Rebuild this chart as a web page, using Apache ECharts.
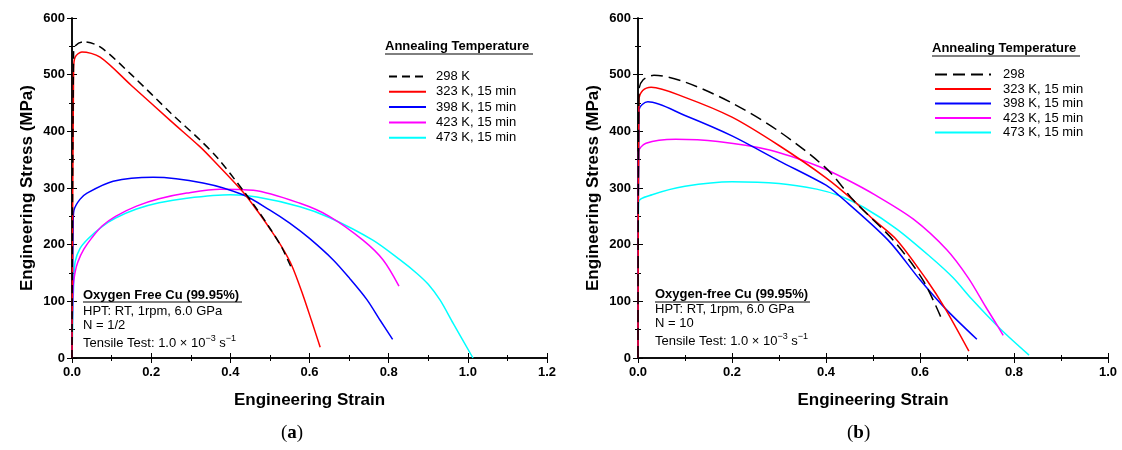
<!DOCTYPE html>
<html>
<head>
<meta charset="utf-8">
<script src="https://cdn.jsdelivr.net/npm/echarts@6/dist/echarts.min.js"></script>
<style>
html,body{margin:0;padding:0;background:#fff}
#main{width:1122px;height:450px}
</style>
</head>
<body>
<div id="main"></div>
<script>
// panel (a): N = 1/2   [strain, stress MPa]
var a298 = [[0,0],[0.004,540],[0.01,552],[0.028,558],[0.071,549],[0.15,500],[0.25,432],[0.323,385],[0.369,352],[0.432,296],[0.47,260],[0.5,229],[0.53,195],[0.553,161]];
var a323 = [[0,0],[0.004,510],[0.008,531],[0.025,540],[0.071,531],[0.15,481],[0.25,418],[0.323,373],[0.357,349],[0.432,293],[0.47,258],[0.5,228],[0.53,196],[0.556,162],[0.584,110],[0.605,66],[0.627,19]];
var a398 = [[0,0],[0.003,240],[0.005,261],[0.02,280],[0.038,291],[0.104,312],[0.205,319],[0.331,309],[0.432,288],[0.5,261],[0.55,238],[0.6,211],[0.66,173],[0.702,140],[0.745,103],[0.778,67],[0.81,33]];
var a423 = [[0,0],[0.003,125],[0.008,152],[0.015,170],[0.03,192],[0.05,212],[0.076,233],[0.11,250],[0.163,268],[0.22,281],[0.29,291],[0.374,298],[0.458,296],[0.576,273],[0.65,250],[0.735,208],[0.786,173],[0.826,127]];
var a473 = [[0,0],[0.003,102],[0.005,143],[0.008,170],[0.02,193],[0.04,210],[0.076,232],[0.11,247],[0.163,263],[0.22,274],[0.29,282],[0.4,288],[0.467,284],[0.576,267],[0.65,248],[0.76,208],[0.829,173],[0.87,150],[0.9,130],[0.93,102],[0.963,61],[1.013,0]];

// panel (b): N = 10
var b298 = [[0,0],[0.002,473],[0.011,491],[0.034,499],[0.1,487],[0.2,450],[0.3,400],[0.4,335],[0.461,276],[0.543,208],[0.606,138],[0.647,67]];
var b323 = [[0,0],[0.002,455],[0.01,472],[0.028,478],[0.1,460],[0.2,425],[0.3,375],[0.4,318],[0.457,279],[0.5,245],[0.551,208],[0.614,138],[0.653,88],[0.704,12]];
var b398 = [[0,0],[0.002,438],[0.021,452],[0.1,428],[0.2,392],[0.3,348],[0.4,305],[0.426,288],[0.532,208],[0.6,138],[0.653,88],[0.721,33]];
var b423 = [[0,0],[0.001,363],[0.017,379],[0.08,386],[0.17,382],[0.28,367],[0.385,338],[0.444,315],[0.506,287],[0.586,245],[0.657,191],[0.703,141],[0.74,90],[0.764,58],[0.777,40]];
var b473 = [[0,0],[0.001,275],[0.03,288],[0.1,303],[0.2,311],[0.3,308],[0.38,298],[0.43,286],[0.48,266],[0.55,228],[0.62,180],[0.67,142],[0.71,104],[0.77,52],[0.832,5]];

var namesA = ['298 K','323 K, 15 min','398 K, 15 min','423 K, 15 min','473 K, 15 min'];
var namesB = ['298','323 K, 15 min','398 K, 15 min','423 K, 15 min','473 K, 15 min'];
var colors = ['#000000','#ff0000','#0000ff','#ff00ff','#00ffff'];

var FONT = 'Liberation Sans';

var myChart = echarts.init(document.getElementById('main'));

function bottomX(grid, max){
    return {
        type:'value', gridIndex:grid, min:0, max:max, interval:0.2, position:'bottom',
        name:'Engineering Strain', nameLocation:'middle', nameGap:34,
        nameTextStyle:{fontFamily:FONT, fontWeight:'bold', fontSize:17, color:'#000'},
        axisLine:{lineStyle:{color:'#000', width:1.5}},
        axisTick:{inside:true, length:5, lineStyle:{color:'#000'}},
        minorTick:{show:true, splitNumber:2, length:3, lineStyle:{color:'#000'}},
        splitLine:{show:false},
        axisLabel:{fontFamily:FONT, fontWeight:'bold', fontSize:13, color:'#000', margin:8,
            formatter:function(v){return v.toFixed(1);}}
    };
}
function topX(grid, max){
    return {
        type:'value', gridIndex:grid, min:0, max:max, interval:0.2, position:'top',
        axisLine:{lineStyle:{color:'#000', width:1.5}},
        axisTick:{inside:true, length:5, lineStyle:{color:'#000'}},
        minorTick:{show:true, splitNumber:2, length:3, lineStyle:{color:'#000'}},
        splitLine:{show:false}, axisLabel:{show:false}
    };
}
function leftY(grid){
    return {
        type:'value', gridIndex:grid, min:0, max:600, interval:100, position:'left',
        name:'Engineering Stress (MPa)', nameLocation:'middle', nameGap:36, nameRotate:90,
        nameTextStyle:{fontFamily:FONT, fontWeight:'bold', fontSize:17, color:'#000'},
        axisLine:{show:true, lineStyle:{color:'#000', width:1.5}},
        axisTick:{show:true, inside:true, length:5, lineStyle:{color:'#000'}},
        minorTick:{show:true, splitNumber:2, length:3, lineStyle:{color:'#000'}},
        splitLine:{show:false},
        axisLabel:{fontFamily:FONT, fontWeight:'bold', fontSize:13, color:'#000', margin:7}
    };
}
function rightY(grid){
    return {
        type:'value', gridIndex:grid, min:0, max:600, interval:100, position:'right',
        axisLine:{show:true, lineStyle:{color:'#000', width:1.5}},
        axisTick:{show:true, inside:true, length:5, lineStyle:{color:'#000'}},
        minorTick:{show:true, splitNumber:2, length:3, lineStyle:{color:'#000'}},
        splitLine:{show:false}, axisLabel:{show:false}
    };
}

function mk(name, data, i, panel, dash){
    return {
        name:name, type:'line', data:data,
        xAxisIndex:panel*2, yAxisIndex:panel*2,
        symbol:'none', smooth:0.3,
        lineStyle:{color:colors[i], width:1.5, type:dash || 'solid'},
        itemStyle:{color:colors[i]},
        z: 10 - i
    };
}

function txt(x, y, text, bold, rich){
    return {
        type:'text', left:x, top:y,
        style:{text:text, fontFamily:FONT, fontSize:13, fontWeight:bold ? 'bold' : 'normal', fill:'#000', rich:rich}
    };
}
function uline(x1, x2, y){
    return {type:'line', shape:{x1:x1, y1:y, x2:x2, y2:y}, style:{stroke:'#000', lineWidth:1}};
}

var supRich = {
    n:{fontFamily:FONT, fontSize:13, fill:'#000', lineHeight:16, verticalAlign:'bottom'},
    s:{fontFamily:FONT, fontSize:9, fill:'#000', lineHeight:16, verticalAlign:'top'}
};
var capRich = {
    p:{fontFamily:'Liberation Serif', fontSize:19, fill:'#000'},
    b:{fontFamily:'Liberation Serif', fontSize:19, fontWeight:'bold', fill:'#000'}
};

option = {
    animation:false,
    grid:[
        {left:72, top:18, width:475, height:340},
        {left:638, top:18, width:470, height:340}
    ],
    xAxis:[bottomX(0,1.2), topX(0,1.2), bottomX(1,1.0), topX(1,1.0)],
    yAxis:[leftY(0), rightY(0), leftY(1), rightY(1)],
    legend:[
        {left:383, top:65, orient:'vertical', itemWidth:37, itemHeight:10, itemGap:2.3, data:namesA,
            itemStyle:{opacity:0},
            textStyle:{fontFamily:FONT, fontSize:13, color:'#000', padding:[0,0,0,5]}},
        {left:929, top:63, orient:'vertical', itemWidth:56, itemHeight:10, itemGap:1.5, data:namesB,
            itemStyle:{opacity:0},
            textStyle:{fontFamily:FONT, fontSize:13, color:'#000', padding:[0,0,0,7]}}
    ],
    series:[
        mk(namesA[4], a473, 4, 0), mk(namesA[3], a423, 3, 0), mk(namesA[2], a398, 2, 0),
        mk(namesA[1], a323, 1, 0), mk(namesA[0], a298, 0, 0, [8,5]),
        mk(namesB[4], b473, 4, 1), mk(namesB[3], b423, 3, 1), mk(namesB[2], b398, 2, 1),
        mk(namesB[1], b323, 1, 1), mk(namesB[0], b298, 0, 1, [12,6])
    ],
    graphic:[
        txt(385, 40, 'Annealing Temperature', true), uline(385, 533, 54),
        txt(932, 42, 'Annealing Temperature', true), uline(932, 1080, 56),

        txt(83, 289, 'Oxygen Free Cu (99.95%)', true), uline(83, 242, 302),
        txt(83, 305, 'HPT: RT, 1rpm, 6.0 GPa'),
        txt(83, 319, 'N = 1/2'),
        txt(83, 334, '{n|Tensile Test: 1.0 × 10}{s|−3}{n| s}{s|−1}', false, supRich),

        txt(655, 288, 'Oxygen-free Cu (99.95%)', true), uline(655, 810, 302),
        txt(655, 303, 'HPT: RT, 1rpm, 6.0 GPa'),
        txt(655, 317, 'N = 10'),
        txt(655, 332, '{n|Tensile Test: 1.0 × 10}{s|−3}{n| s}{s|−1}', false, supRich),

        txt(281, 424, '{p|(}{b|a}{p|)}', false, capRich),
        txt(847, 424, '{p|(}{b|b}{p|)}', false, capRich)
    ]
};

myChart.setOption(option);
window.addEventListener('resize', function(){ myChart.resize(); });
</script>
</body>
</html>
